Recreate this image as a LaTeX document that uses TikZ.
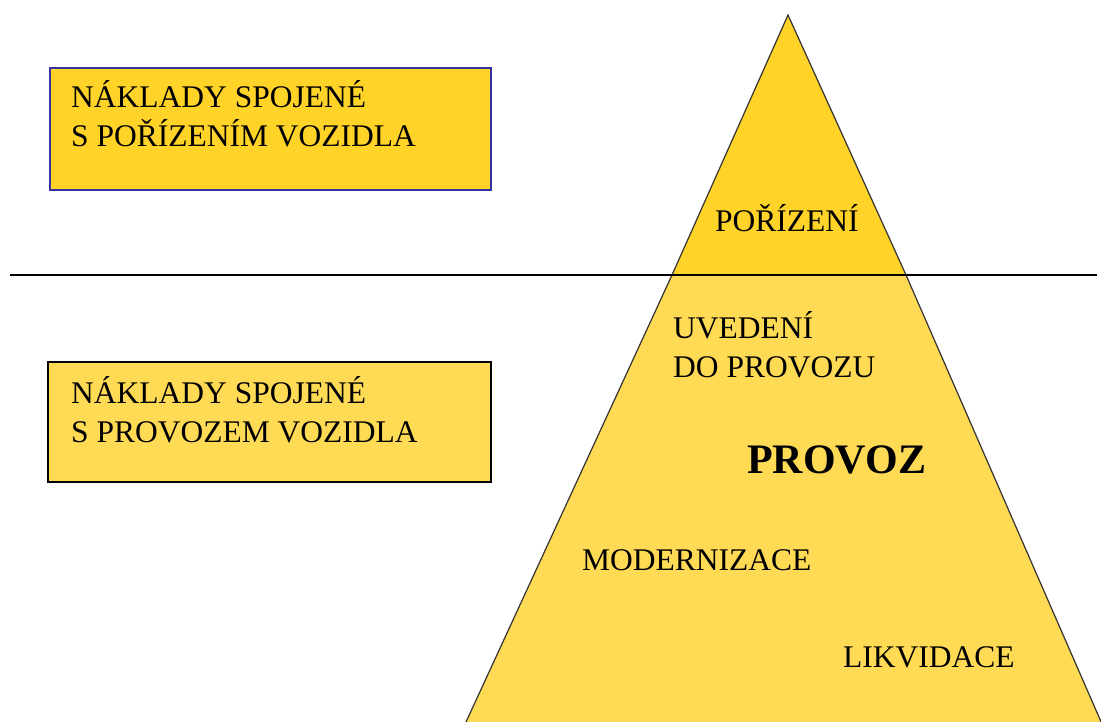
\documentclass[tikz,border=0pt]{standalone}
\usepackage{fontspec}
\setmainfont{Liberation Serif}
\definecolor{topyellow}{RGB}{255,211,40}
\definecolor{lowyellow}{RGB}{255,219,85}
\definecolor{navyedge}{RGB}{51,51,153}
\tikzset{
  lbl/.style={anchor=base west, inner sep=0pt, font=\fontsize{31.5}{39}\selectfont},
  boxlbl/.style={lbl, align=left},
  costbox/.style={draw, line width=1.3pt, inner sep=0pt},
  edge/.style={line width=1.2pt, black!80},
}
\begin{document}
\begin{tikzpicture}[x=1pt,y=-1pt]
\useasboundingbox[fill=white] (0,0) rectangle (1101,722);
\clip (0,0) rectangle (1101,722);
% lower part of pyramid
\fill[lowyellow] (672,275) -- (906,275) -- (1101,722) -- (466,722) -- cycle;
\draw[edge] (672,275) -- (466,722);
\draw[edge] (906,275) -- (1102,724);
% top triangle
\fill[topyellow] (788,15) -- (906,275) -- (672,275) -- cycle;
\draw[edge, line join=miter] (672,275) -- (788,15) -- (906,275);
% horizontal line
\coordinate (hl) at (10,275);
\coordinate (hr) at (1097,275);
\draw[line width=1.3pt] (hl) -- (hr);
% boxes
\draw[costbox, draw=navyedge, fill=topyellow] (50,68) rectangle (491,190);
\draw[costbox, draw=black, fill=lowyellow] (48,362) rectangle (491,482);
\node[boxlbl] (t1) at (71,147) {NÁKLADY SPOJENÉ\\S POŘÍZENÍM VOZIDLA};
\node[boxlbl] (t2) at (71,442) {NÁKLADY SPOJENÉ\\S PROVOZEM VOZIDLA};
% pyramid labels
\node[lbl] (por) at (715,232) {POŘÍZENÍ};
\node[boxlbl] (uv) at (673,377) {UVEDENÍ\\DO PROVOZU};
\node[anchor=base west, inner sep=0pt, font=\fontsize{42}{48}\selectfont\bfseries] (prov) at (747,473) {PROVOZ};
\node[lbl] (mod) at (582,570) {MODERNIZACE};
\node[lbl] (lik) at (843,667) {LIKVIDACE};
\end{tikzpicture}
\end{document}
